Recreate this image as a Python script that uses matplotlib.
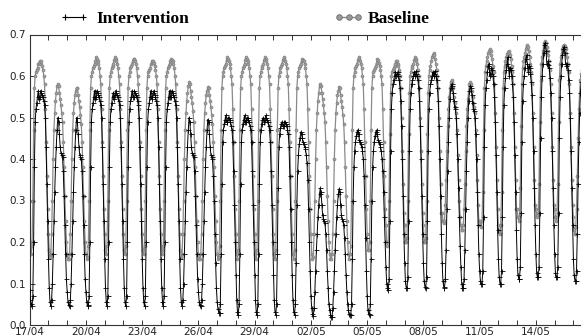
import numpy as np
import pandas as pd
import matplotlib
matplotlib.use("Agg")
import matplotlib.pyplot as plt
import matplotlib.dates as mdates
from matplotlib.lines import Line2D

# Hourly values, one row per day (17/04 .. 16/05)
intervention = [
    [0.085, 0.06, 0.05, 0.045, 0.07, 0.2, 0.38, 0.49, 0.52, 0.535, 0.55, 0.565, 0.545, 0.55, 0.565, 0.56, 0.555, 0.55, 0.54, 0.53, 0.5, 0.43, 0.34, 0.25],   # 17/04
    [0.16, 0.09, 0.055, 0.045, 0.06, 0.1, 0.17, 0.25, 0.32, 0.38, 0.43, 0.47, 0.5, 0.49, 0.46, 0.43, 0.415, 0.41, 0.405, 0.37, 0.31, 0.24, 0.17, 0.11],      # 18/04
    [0.08, 0.055, 0.047, 0.045, 0.06, 0.1, 0.17, 0.25, 0.32, 0.38, 0.43, 0.47, 0.5, 0.49, 0.46, 0.43, 0.41, 0.405, 0.4, 0.37, 0.31, 0.24, 0.17, 0.11],       # 19/04
    [0.08, 0.055, 0.047, 0.045, 0.07, 0.2, 0.38, 0.49, 0.52, 0.535, 0.55, 0.565, 0.545, 0.55, 0.565, 0.56, 0.555, 0.55, 0.54, 0.53, 0.5, 0.43, 0.34, 0.25],  # 20/04
    [0.16, 0.09, 0.055, 0.045, 0.07, 0.2, 0.38, 0.49, 0.52, 0.535, 0.55, 0.56, 0.545, 0.555, 0.565, 0.56, 0.555, 0.55, 0.54, 0.53, 0.5, 0.43, 0.34, 0.25],   # 21/04
    [0.16, 0.09, 0.055, 0.045, 0.07, 0.2, 0.38, 0.49, 0.52, 0.54, 0.55, 0.565, 0.55, 0.55, 0.565, 0.56, 0.555, 0.55, 0.54, 0.53, 0.5, 0.43, 0.34, 0.25],     # 22/04
    [0.16, 0.09, 0.055, 0.045, 0.07, 0.2, 0.38, 0.49, 0.52, 0.535, 0.55, 0.565, 0.545, 0.55, 0.56, 0.565, 0.555, 0.55, 0.54, 0.53, 0.5, 0.43, 0.34, 0.25],   # 23/04
    [0.16, 0.09, 0.055, 0.045, 0.07, 0.2, 0.38, 0.49, 0.52, 0.535, 0.55, 0.565, 0.55, 0.55, 0.565, 0.56, 0.555, 0.55, 0.54, 0.53, 0.5, 0.43, 0.34, 0.25],    # 24/04
    [0.16, 0.09, 0.055, 0.045, 0.06, 0.1, 0.17, 0.25, 0.32, 0.38, 0.43, 0.47, 0.5, 0.49, 0.46, 0.43, 0.415, 0.41, 0.405, 0.37, 0.31, 0.24, 0.17, 0.11],      # 25/04
    [0.08, 0.055, 0.047, 0.045, 0.06, 0.1, 0.17, 0.25, 0.32, 0.38, 0.43, 0.47, 0.495, 0.49, 0.46, 0.43, 0.41, 0.405, 0.4, 0.36, 0.3, 0.22, 0.15, 0.09],      # 26/04
    [0.055, 0.038, 0.03, 0.029, 0.05, 0.17, 0.34, 0.44, 0.47, 0.485, 0.495, 0.505, 0.49, 0.49, 0.5, 0.5, 0.495, 0.49, 0.48, 0.47, 0.44, 0.37, 0.29, 0.2],    # 27/04
    [0.12, 0.06, 0.032, 0.024, 0.05, 0.17, 0.34, 0.44, 0.47, 0.485, 0.495, 0.505, 0.49, 0.49, 0.5, 0.5, 0.495, 0.49, 0.48, 0.47, 0.44, 0.37, 0.29, 0.2],     # 28/04
    [0.12, 0.06, 0.032, 0.024, 0.05, 0.17, 0.34, 0.44, 0.47, 0.485, 0.495, 0.5, 0.49, 0.495, 0.505, 0.5, 0.495, 0.49, 0.48, 0.47, 0.44, 0.37, 0.29, 0.2],    # 29/04
    [0.12, 0.06, 0.032, 0.024, 0.05, 0.17, 0.33, 0.43, 0.46, 0.475, 0.485, 0.49, 0.48, 0.48, 0.49, 0.49, 0.485, 0.48, 0.47, 0.46, 0.43, 0.36, 0.28, 0.2],    # 30/04
    [0.12, 0.06, 0.032, 0.024, 0.05, 0.15, 0.29, 0.37, 0.41, 0.435, 0.45, 0.465, 0.46, 0.45, 0.44, 0.435, 0.43, 0.425, 0.41, 0.39, 0.35, 0.28, 0.2, 0.13], # 01/05
    [0.07, 0.04, 0.026, 0.022, 0.04, 0.08, 0.13, 0.18, 0.22, 0.26, 0.29, 0.315, 0.33, 0.32, 0.29, 0.265, 0.255, 0.25, 0.245, 0.22, 0.18, 0.13, 0.09, 0.05], # 02/05
    [0.035, 0.025, 0.02, 0.02, 0.04, 0.08, 0.13, 0.18, 0.22, 0.26, 0.29, 0.315, 0.328, 0.32, 0.29, 0.265, 0.255, 0.25, 0.24, 0.21, 0.17, 0.12, 0.08, 0.05], # 03/05
    [0.035, 0.026, 0.024, 0.024, 0.05, 0.16, 0.3, 0.38, 0.42, 0.44, 0.455, 0.465, 0.47, 0.46, 0.445, 0.44, 0.435, 0.43, 0.42, 0.4, 0.36, 0.29, 0.21, 0.13], # 04/05
    [0.07, 0.035, 0.026, 0.024, 0.05, 0.16, 0.3, 0.38, 0.42, 0.44, 0.455, 0.465, 0.47, 0.46, 0.445, 0.44, 0.435, 0.43, 0.42, 0.4, 0.37, 0.32, 0.26, 0.2],   # 05/05
    [0.14, 0.1, 0.088, 0.084, 0.11, 0.25, 0.42, 0.52, 0.56, 0.58, 0.59, 0.6, 0.61, 0.6, 0.605, 0.61, 0.6, 0.59, 0.57, 0.54, 0.48, 0.4, 0.31, 0.22],          # 06/05
    [0.15, 0.105, 0.09, 0.088, 0.115, 0.25, 0.42, 0.52, 0.56, 0.58, 0.59, 0.6, 0.61, 0.6, 0.605, 0.612, 0.6, 0.59, 0.57, 0.54, 0.48, 0.4, 0.31, 0.22],      # 07/05
    [0.15, 0.105, 0.092, 0.09, 0.115, 0.25, 0.42, 0.52, 0.56, 0.58, 0.59, 0.6, 0.61, 0.6, 0.605, 0.612, 0.6, 0.59, 0.57, 0.54, 0.48, 0.4, 0.31, 0.22],      # 08/05
    [0.15, 0.105, 0.092, 0.09, 0.11, 0.18, 0.28, 0.37, 0.44, 0.5, 0.545, 0.57, 0.58, 0.575, 0.56, 0.54, 0.525, 0.52, 0.5, 0.46, 0.4, 0.33, 0.26, 0.19],     # 09/05
    [0.14, 0.1, 0.09, 0.09, 0.11, 0.18, 0.28, 0.37, 0.44, 0.5, 0.54, 0.565, 0.575, 0.57, 0.555, 0.535, 0.52, 0.515, 0.5, 0.46, 0.4, 0.32, 0.24, 0.17],      # 10/05
    [0.13, 0.105, 0.1, 0.1, 0.13, 0.26, 0.43, 0.53, 0.57, 0.59, 0.61, 0.625, 0.63, 0.6, 0.605, 0.62, 0.615, 0.6, 0.58, 0.55, 0.49, 0.41, 0.32, 0.23],       # 11/05
    [0.16, 0.115, 0.1, 0.1, 0.13, 0.26, 0.43, 0.53, 0.57, 0.595, 0.615, 0.63, 0.645, 0.62, 0.6, 0.62, 0.615, 0.6, 0.58, 0.55, 0.49, 0.41, 0.32, 0.23],      # 12/05
    [0.16, 0.12, 0.112, 0.112, 0.14, 0.27, 0.44, 0.54, 0.58, 0.6, 0.62, 0.64, 0.65, 0.63, 0.61, 0.625, 0.62, 0.605, 0.585, 0.555, 0.5, 0.42, 0.33, 0.24], # 13/05
    [0.17, 0.125, 0.115, 0.115, 0.14, 0.27, 0.45, 0.55, 0.6, 0.63, 0.655, 0.675, 0.68, 0.66, 0.63, 0.626, 0.635, 0.62, 0.595, 0.56, 0.5, 0.42, 0.33, 0.24], # 14/05
    [0.17, 0.125, 0.115, 0.115, 0.14, 0.27, 0.45, 0.55, 0.6, 0.63, 0.65, 0.665, 0.67, 0.655, 0.63, 0.625, 0.63, 0.615, 0.59, 0.56, 0.5, 0.42, 0.33, 0.24],  # 15/05
    [0.16, 0.12, 0.107, 0.105, 0.13, 0.22, 0.34, 0.44, 0.51, 0.56, 0.585, 0.6, 0.6],                                                                       # 16/05
]

baseline = [
    [0.3, 0.2, 0.17, 0.19, 0.3, 0.47, 0.57, 0.6, 0.61, 0.615, 0.62, 0.63, 0.632, 0.636, 0.635, 0.63, 0.625, 0.615, 0.6, 0.58, 0.52, 0.44, 0.36, 0.28],
    [0.22, 0.18, 0.165, 0.17, 0.22, 0.3, 0.4, 0.47, 0.51, 0.54, 0.56, 0.575, 0.58, 0.575, 0.56, 0.545, 0.53, 0.51, 0.49, 0.44, 0.38, 0.31, 0.25, 0.2],
    [0.17, 0.16, 0.16, 0.17, 0.22, 0.3, 0.4, 0.47, 0.51, 0.535, 0.555, 0.565, 0.572, 0.57, 0.555, 0.54, 0.525, 0.505, 0.485, 0.44, 0.38, 0.31, 0.25, 0.2],
    [0.17, 0.16, 0.165, 0.19, 0.3, 0.47, 0.57, 0.6, 0.61, 0.62, 0.625, 0.63, 0.635, 0.645, 0.64, 0.635, 0.63, 0.62, 0.6, 0.58, 0.52, 0.44, 0.36, 0.28],
    [0.22, 0.18, 0.17, 0.19, 0.3, 0.47, 0.57, 0.6, 0.61, 0.62, 0.625, 0.63, 0.638, 0.645, 0.64, 0.635, 0.63, 0.62, 0.6, 0.58, 0.52, 0.44, 0.36, 0.28],
    [0.22, 0.18, 0.17, 0.19, 0.3, 0.47, 0.57, 0.6, 0.61, 0.62, 0.625, 0.63, 0.635, 0.642, 0.64, 0.635, 0.63, 0.62, 0.6, 0.58, 0.52, 0.44, 0.36, 0.28],
    [0.22, 0.18, 0.17, 0.19, 0.3, 0.47, 0.57, 0.6, 0.61, 0.615, 0.62, 0.628, 0.632, 0.637, 0.636, 0.632, 0.625, 0.615, 0.6, 0.58, 0.52, 0.44, 0.36, 0.28],
    [0.22, 0.18, 0.17, 0.19, 0.3, 0.47, 0.57, 0.6, 0.61, 0.62, 0.625, 0.63, 0.635, 0.64, 0.638, 0.635, 0.63, 0.62, 0.6, 0.58, 0.52, 0.44, 0.36, 0.28],
    [0.22, 0.18, 0.165, 0.17, 0.22, 0.3, 0.4, 0.47, 0.51, 0.54, 0.56, 0.575, 0.585, 0.58, 0.565, 0.55, 0.535, 0.515, 0.49, 0.44, 0.38, 0.31, 0.25, 0.2],
    [0.17, 0.16, 0.16, 0.17, 0.22, 0.3, 0.4, 0.47, 0.51, 0.535, 0.555, 0.565, 0.573, 0.57, 0.555, 0.54, 0.525, 0.505, 0.485, 0.44, 0.38, 0.31, 0.25, 0.2],
    [0.17, 0.16, 0.165, 0.19, 0.3, 0.47, 0.57, 0.6, 0.61, 0.62, 0.625, 0.63, 0.638, 0.645, 0.64, 0.635, 0.63, 0.62, 0.6, 0.58, 0.52, 0.44, 0.36, 0.28],
    [0.22, 0.17, 0.16, 0.18, 0.3, 0.47, 0.57, 0.6, 0.61, 0.62, 0.625, 0.63, 0.638, 0.645, 0.64, 0.635, 0.63, 0.62, 0.6, 0.58, 0.52, 0.44, 0.36, 0.28],
    [0.22, 0.17, 0.16, 0.18, 0.3, 0.47, 0.57, 0.6, 0.61, 0.62, 0.625, 0.63, 0.638, 0.645, 0.64, 0.635, 0.63, 0.62, 0.6, 0.58, 0.52, 0.44, 0.36, 0.28],
    [0.22, 0.17, 0.16, 0.18, 0.3, 0.47, 0.57, 0.6, 0.61, 0.62, 0.625, 0.63, 0.638, 0.645, 0.64, 0.635, 0.63, 0.62, 0.6, 0.58, 0.52, 0.44, 0.36, 0.28],
    [0.22, 0.17, 0.16, 0.18, 0.3, 0.47, 0.57, 0.6, 0.61, 0.62, 0.625, 0.63, 0.635, 0.64, 0.638, 0.635, 0.63, 0.62, 0.6, 0.58, 0.52, 0.44, 0.36, 0.28],
    [0.22, 0.17, 0.16, 0.165, 0.22, 0.3, 0.4, 0.47, 0.51, 0.54, 0.56, 0.575, 0.58, 0.575, 0.56, 0.545, 0.53, 0.51, 0.49, 0.44, 0.38, 0.31, 0.25, 0.2],
    [0.17, 0.16, 0.16, 0.17, 0.22, 0.3, 0.4, 0.47, 0.51, 0.535, 0.555, 0.565, 0.573, 0.57, 0.555, 0.54, 0.525, 0.505, 0.485, 0.44, 0.38, 0.31, 0.25, 0.2],
    [0.17, 0.16, 0.17, 0.19, 0.3, 0.47, 0.57, 0.6, 0.61, 0.62, 0.625, 0.63, 0.638, 0.645, 0.64, 0.635, 0.63, 0.62, 0.6, 0.58, 0.52, 0.44, 0.36, 0.28],
    [0.22, 0.18, 0.18, 0.2, 0.3, 0.47, 0.57, 0.6, 0.61, 0.615, 0.62, 0.625, 0.632, 0.64, 0.638, 0.632, 0.625, 0.615, 0.6, 0.58, 0.52, 0.44, 0.36, 0.28],
    [0.24, 0.2, 0.19, 0.2, 0.3, 0.46, 0.56, 0.6, 0.61, 0.615, 0.62, 0.625, 0.63, 0.636, 0.635, 0.63, 0.625, 0.615, 0.6, 0.57, 0.5, 0.42, 0.34, 0.27],
    [0.24, 0.2, 0.2, 0.21, 0.3, 0.46, 0.56, 0.6, 0.61, 0.62, 0.625, 0.63, 0.638, 0.645, 0.64, 0.635, 0.628, 0.615, 0.6, 0.57, 0.5, 0.42, 0.34, 0.27],
    [0.24, 0.2, 0.2, 0.21, 0.3, 0.46, 0.56, 0.6, 0.615, 0.625, 0.635, 0.645, 0.65, 0.655, 0.65, 0.64, 0.63, 0.615, 0.6, 0.57, 0.5, 0.42, 0.34, 0.27],
    [0.27, 0.25, 0.245, 0.25, 0.29, 0.35, 0.42, 0.48, 0.52, 0.55, 0.57, 0.585, 0.59, 0.585, 0.57, 0.55, 0.535, 0.525, 0.51, 0.47, 0.41, 0.35, 0.3, 0.26],
    [0.24, 0.23, 0.23, 0.24, 0.28, 0.34, 0.42, 0.48, 0.52, 0.545, 0.565, 0.58, 0.585, 0.58, 0.565, 0.55, 0.535, 0.525, 0.51, 0.47, 0.41, 0.35, 0.29, 0.25],
    [0.25, 0.24, 0.236, 0.25, 0.32, 0.47, 0.57, 0.61, 0.625, 0.635, 0.645, 0.655, 0.66, 0.665, 0.66, 0.65, 0.64, 0.625, 0.61, 0.58, 0.51, 0.43, 0.35, 0.28],
    [0.24, 0.225, 0.22, 0.24, 0.32, 0.47, 0.57, 0.61, 0.625, 0.635, 0.645, 0.652, 0.658, 0.66, 0.655, 0.65, 0.64, 0.625, 0.61, 0.58, 0.51, 0.43, 0.35, 0.28],
    [0.28, 0.26, 0.25, 0.26, 0.33, 0.48, 0.58, 0.62, 0.635, 0.645, 0.655, 0.665, 0.672, 0.675, 0.67, 0.66, 0.645, 0.63, 0.61, 0.58, 0.51, 0.43, 0.35, 0.29],
    [0.28, 0.265, 0.26, 0.27, 0.34, 0.49, 0.59, 0.63, 0.645, 0.66, 0.67, 0.68, 0.685, 0.68, 0.67, 0.66, 0.65, 0.635, 0.615, 0.58, 0.51, 0.43, 0.35, 0.29],
    [0.28, 0.26, 0.25, 0.26, 0.34, 0.49, 0.59, 0.63, 0.645, 0.655, 0.665, 0.672, 0.675, 0.672, 0.665, 0.655, 0.645, 0.63, 0.61, 0.58, 0.51, 0.43, 0.35, 0.29],
    [0.26, 0.23, 0.22, 0.235, 0.28, 0.36, 0.45, 0.52, 0.56, 0.59, 0.605, 0.615, 0.62],
]

start_date = "2009-04-17"
label_dates = ["17/04", "20/04", "23/04", "26/04", "29/04", "02/05", "05/05", "08/05", "11/05", "14/05"]
y_ticks = [0.0, 0.1, 0.2, 0.3, 0.4, 0.5, 0.6, 0.7]
series_names = ["Intervention", "Baseline"]

int_vals = np.concatenate([np.array(d) for d in intervention])
base_vals = np.concatenate([np.array(d) for d in baseline])
times = pd.date_range(start_date, periods=len(int_vals), freq="h")

W, H = 581, 335
fig = plt.figure(figsize=(W / 100, H / 100), dpi=100)
ax = fig.add_axes([29.7 / W, 1 - 325 / H, 1.004 - 29.7 / W, (325 - 34.5) / H])

gray = "#8a8a8a"
ax.plot(times, base_vals, color=gray, lw=0.9, marker="o", ms=2.2,
        mfc="#a0a0a0", mec="#7a7a7a", mew=0.4, zorder=2)
ax.plot(times, int_vals, color="black", lw=0.7, marker="+", ms=3.6,
        mew=0.6, zorder=3)

t0 = pd.Timestamp(start_date)
ax.set_xlim(t0, t0 + pd.Timedelta(hours=29.53 * 24))
ax.set_ylim(0, 0.7)
ax.set_yticks(y_ticks)
ax.set_yticklabels([f"{v:.1f}" for v in y_ticks])

ax.xaxis.set_major_locator(mdates.DayLocator(interval=3))
ax.xaxis.set_major_formatter(mdates.DateFormatter("%d/%m"))
ax.xaxis.set_minor_locator(mdates.DayLocator())

for s in ["left", "top", "bottom"]:
    ax.spines[s].set_linewidth(0.8)
    ax.spines[s].set_color("#333333")
ax.spines["right"].set_visible(False)

ax.tick_params(axis="both", which="both", direction="in", top=True,
               right=False, length=3.5, width=0.7, color="#333333",
               labelsize=7.5, labelcolor="#222222")
ax.tick_params(axis="x", which="major", pad=1.5)
ax.tick_params(axis="y", which="major", pad=2.5)

legend_font = {"family": "Liberation Serif", "weight": "bold", "size": 12.5}
h1 = Line2D([], [], color="black", lw=0.8, marker="+", ms=5, mew=0.8)
h2 = Line2D([], [], color=gray, lw=1.0, marker="o", ms=4,
            mfc="#9a9a9a", mec="#6a6a6a", mew=0.6)
leg1 = fig.legend([h1], [series_names[0]], loc="center left",
                  bbox_to_anchor=(60 / W, 1 - 18.5 / H), frameon=False,
                  prop=legend_font, handlelength=1.6, handletextpad=0.5,
                  numpoints=2, borderpad=0, borderaxespad=0)
leg2 = fig.legend([h2], [series_names[1]], loc="center left",
                  bbox_to_anchor=(334 / W, 1 - 18.5 / H), frameon=False,
                  prop=legend_font, handlelength=1.7, handletextpad=0.25,
                  numpoints=3, borderpad=0, borderaxespad=0)

fig.savefig("out.png", dpi=100)
